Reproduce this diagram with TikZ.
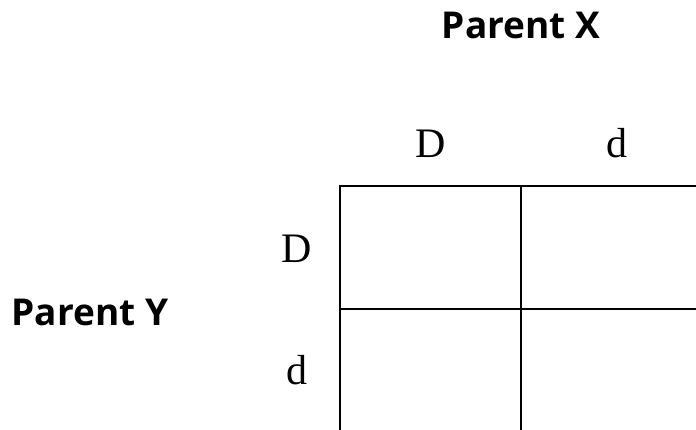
\documentclass[tikz,border=0pt]{standalone}
\usepackage{fontspec}
\setmainfont{Liberation Serif}
\newfontfamily\labelfont{Open Sans}

\begin{document}
\begin{tikzpicture}[x=1pt,y=-1pt,line cap=rect,line join=miter]
        \useasboundingbox (0,0) rectangle (696,429);
        \coordinate (TL) at (340,186);
        \coordinate (M) at (521,309);

        % Cuadro
        \draw[line width=2.6pt] (340,440) -- (TL) -- (710,186);
        \draw[line width=2.6pt] (340,309) -- (710,309);
        \draw[line width=2.6pt] (521,186) -- (521,440);

        % Padres
        \node[anchor=base,inner sep=0pt,font=\labelfont\bfseries\fontsize{37}{42}\selectfont] (px) at (521,38) {Parent X};
        \node[anchor=base,inner sep=0pt,font=\labelfont\bfseries\fontsize{37}{42}\selectfont] (py) at (90,325) {Parent Y};

        % Alelos
        \node[anchor=base,inner sep=0pt,font=\fontsize{42}{48}\selectfont] (xD) at (431,157) {D};
        \node[anchor=base,inner sep=0pt,font=\fontsize{42}{48}\selectfont] (xd) at (617,157) {d};
        \node[anchor=base,inner sep=0pt,font=\fontsize{42}{48}\selectfont] (yD) at (297,262) {D};
        \node[anchor=base,inner sep=0pt,font=\fontsize{42}{48}\selectfont] (yd) at (297,384) {d};
    \end{tikzpicture}
\end{document}
